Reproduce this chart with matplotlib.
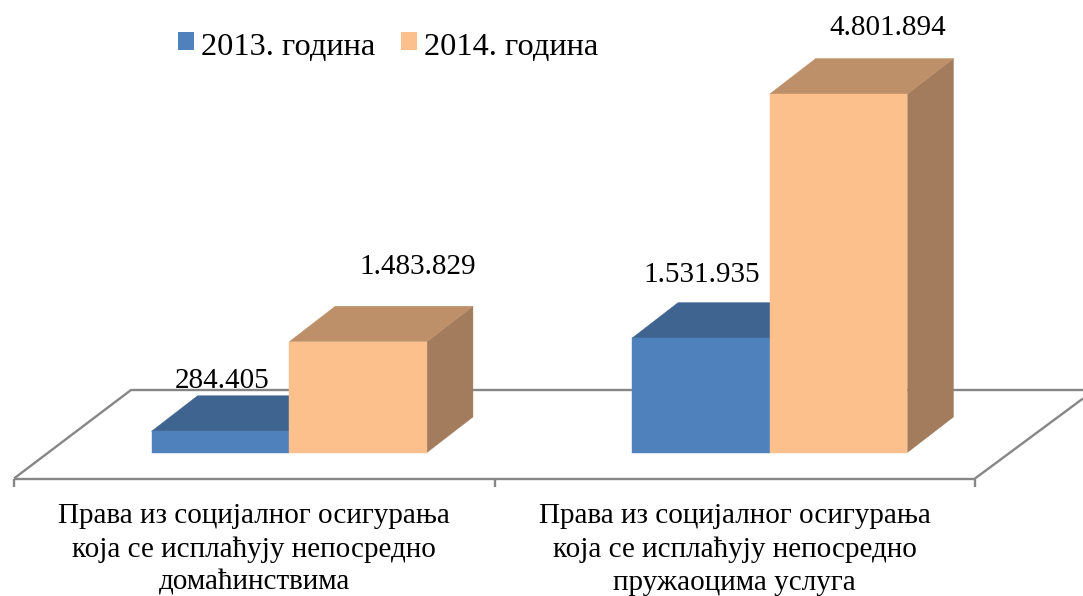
import numpy as np
import matplotlib
matplotlib.use("Agg")
import matplotlib.pyplot as plt
from matplotlib.patches import Polygon, Rectangle
from matplotlib.legend_handler import HandlerPatch

categories = ["Права из социјалног осигурања\nкоја се исплаћују непосредно\nдомаћинствима",
              "Права из социјалног осигурања\nкоја се исплаћују непосредно\nпружаоцима услуга"]
series_names = ["2013. година", "2014. година"]
values_2013 = [284405, 1531935]
values_2014 = [1483829, 4801894]
labels_2013 = ["284.405", "1.531.935"]
labels_2014 = ["1.483.829", "4.801.894"]

W, H = 1083, 596
plt.rcParams['font.family'] = ['Liberation Serif', 'DejaVu Serif']
fig = plt.figure(figsize=(W/100, H/100), dpi=100)
ax = fig.add_axes([0, 0, 1, 1])
ax.axis('off')

# Scales: x in category units, y in data values; helpers hold layout in pixels
BASE_PX = 452.5
PX_PER_UNIT = (452.5 - 94) / 4801894
CAT_PX = 480.5
X0_PX = 14
ax.set_xlim(-X0_PX / CAT_PX, (W - X0_PX) / CAT_PX)
ax.set_ylim((BASE_PX - H) / PX_PER_UNIT, BASE_PX / PX_PER_UNIT)
sx = 1 / CAT_PX
sy = 1 / PX_PER_UNIT

depth_x, depth_y = 46 * sx, 35.5 * sy
bar_w = 137.7 * sx
centre = 0.5 + 35 * sx

front_cols = ['#4F81BD', '#FCC08D']
top_cols = ['#3F6490', '#BE9069']
side_cols = ['#35567D', '#A27C5C']

# Floor
gray = '#868686'
fy = -26 * sy
by = 62.5 * sy
lk = dict(color=gray, lw=1.7, solid_capstyle='butt', zorder=1)
ax.plot([0, 2], [fy, fy], **lk)
ax.plot([0, 117 * sx, (W - X0_PX) * sx], [fy, by, by], **lk)
ax.plot([2, 2 + 108 * sx], [fy, fy + 80 * sy], **lk)
for i in range(3):
    ax.plot([i, i], [fy, fy - 8 * sy], **lk)


def bar3d(x, v, c, z):
    t = max(v, 0)
    ax.add_patch(Polygon([(x + bar_w, 0), (x + bar_w + depth_x, depth_y),
                          (x + bar_w + depth_x, t + depth_y), (x + bar_w, t)],
                         fc=side_cols[c], ec=side_cols[c], lw=0.3, zorder=z))
    ax.add_patch(Polygon([(x, t), (x + depth_x, t + depth_y),
                          (x + bar_w + depth_x, t + depth_y), (x + bar_w, t)],
                         fc=top_cols[c], ec=top_cols[c], lw=0.3, zorder=z))
    ax.add_patch(Rectangle((x, 0), bar_w, t, fc=front_cols[c], ec=front_cols[c], lw=0.3, zorder=z + 0.1))


for i, (a, b) in enumerate(zip(values_2013, values_2014)):
    bar3d(i + centre - bar_w, a, 0, 2 + i)
    bar3d(i + centre, b, 1, 3 + i)

FS = 21
pos13 = [(0 + centre - 0.5 * bar_w + 2 * sx, 285000 + 43 * sy),
         (1 + centre - 0.5 * bar_w + 1 * sx, 1531935 + 56 * sy)]
pos14 = [(0 + centre + 0.5 * bar_w + 60 * sx, 1483829 + 68 * sy),
         (1 + centre + 0.5 * bar_w + 49 * sx, 4801894 + 59 * sy)]
for (x, y), s in zip(pos13, labels_2013):
    ax.text(x, y, s, ha='center', va='baseline', fontsize=FS, color='black', zorder=10)
for (x, y), s in zip(pos14, labels_2014):
    ax.text(x, y, s, ha='center', va='baseline', fontsize=FS, color='black', zorder=10)

for i, s in enumerate(categories):
    ax.text(i + 0.5, -50.5 * sy, s, ha='center', va='top', fontsize=FS, color='black',
            linespacing=1.355)


# Legend
def raised_swatch(legend, orig_handle, xdescent, ydescent, width, height, fontsize):
    return Rectangle((-xdescent, -ydescent + 1.44), width, height)


handles = [Rectangle((0, 0), 1, 1, fc=c, ec='none') for c in front_cols]
ax.legend(handles, series_names, loc='upper left', bbox_to_anchor=(155 / W, 1 - 10 / H),
          frameon=False, fontsize=23.3, ncol=2, handlelength=0.49, handleheight=0.49,
          handletextpad=0.22, columnspacing=0.82, borderpad=0.2,
          handler_map={Rectangle: HandlerPatch(patch_func=raised_swatch)})

fig.savefig('out.png', dpi=100)
